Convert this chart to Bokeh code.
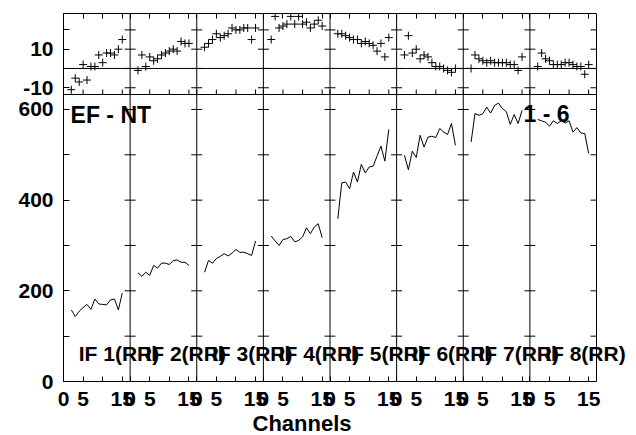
import math
from bokeh.plotting import figure
from bokeh.models import Range1d, FixedTicker, LinearAxis, Span, Label, Title
from bokeh.embed import file_html
from bokeh.resources import INLINE

# ---------------- data ----------------
channels = list(range(2, 16))
seg_width = 17
n_seg = 8
if_names = ["IF 1(RR)", "IF 2(RR)", "IF 3(RR)", "IF 4(RR)",
            "IF 5(RR)", "IF 6(RR)", "IF 7(RR)", "IF 8(RR)"]

phase_if1 = [-11, -5, -7, 2, -6, 1, 1, 7, 3, 8, 8, 7, 10, 15]
phase_if2 = [-1, 7, 1, 6, 4, 5, 7, 8, 9, 10, 9, 14, 13, 13]
phase_if3 = [11, 13, 15, 18, 16, 17, 18, 21, 20, 20, 21, 21, 15, 21]
phase_if4 = [15, 27, 21, 22, 23, 27, 23, 27, 23, 24, 21, 23, 25, 22]
phase_if5 = [18, 18, 17, 16, 15, 15, 13, 14, 13, 12, 9, 13, 6, 16]
phase_if6 = [7, 17, 8, 10, 5, 7, 6, 3, 1, 1, 0, -1, -2, 0]
phase_if7 = [0, 7, 5, 4, 3, 4, 3, 3, 3, 3, 2, 2, -1, 6]
phase_if8 = [1, 8, 5, 4, 2, 2, 2, 3, 3, 2, 1, 1, -3, 2]

amp_if1 = [158, 143, 155, 163, 170, 159, 182, 171, 170, 169, 180, 182, 158, 195]
amp_if2 = [240, 232, 241, 234, 256, 250, 261, 261, 258, 267, 268, 263, 263, 256]
amp_if3 = [241, 267, 261, 271, 276, 282, 277, 283, 291, 285, 285, 282, 278, 310]
amp_if4 = [321, 310, 300, 313, 315, 320, 308, 311, 319, 339, 326, 341, 348, 317]
amp_if5 = [359, 438, 440, 425, 462, 440, 479, 460, 473, 475, 497, 519, 486, 556]
amp_if6 = [499, 467, 508, 494, 543, 517, 539, 541, 538, 558, 550, 545, 569, 521]
amp_if7 = [528, 591, 587, 591, 605, 592, 609, 614, 602, 595, 567, 589, 569, 598]
amp_if8 = [578, 575, 572, 563, 575, 569, 575, 570, 575, 550, 560, 548, 547, 503]

phases = [phase_if1, phase_if2, phase_if3, phase_if4,
          phase_if5, phase_if6, phase_if7, phase_if8]
amps = [amp_if1, amp_if2, amp_if3, amp_if4, amp_if5, amp_if6, amp_if7, amp_if8]

chan_ticks = [0, 5, 10, 15]
chan_tick_labels = ["0", "5", "", "15"]
amp_ticks = [0, 100, 200, 300, 400, 500, 600]
amp_tick_labels = ["0", "", "200", "", "400", "", "600"]
phase_ticks = [-10, 0, 10, 20]
phase_tick_labels = ["-10", "", "10", ""]
corner_left = "EF - NT"
corner_right = "1 - 6"
x_title = "Channels"

# axis limits of the two panels
amp_max = 633
phase_lo, phase_hi = -13.5, 28.5

# ---------------- layout constants ----------------
FONT = "Liberation Sans"
FS = "21px"
FRAME_W = 533
EXTRA_W = 36          # frame room right of the boxed area, for the overflowing label
H_TOP, H_BOT = 81, 287

x_end = seg_width * n_seg
x_end_wide = x_end * (FRAME_W + EXTRA_W) / FRAME_W
amp_top = amp_max * (H_TOP + H_BOT) / H_BOT
phase_start = phase_lo - (phase_hi - phase_lo) * H_BOT / H_TOP


def phase_to_main(v):
    return amp_max + (v - phase_lo) * (amp_top - amp_max) / (phase_hi - phase_lo)


x_tick_pos = [k * seg_width + t for k in range(n_seg) for t in chan_ticks]
x_overrides = {k * seg_width + t: lab for k in range(n_seg)
               for t, lab in zip(chan_ticks, chan_tick_labels)}

left_pos = list(amp_ticks) + [phase_to_main(v) for v in phase_ticks]
left_overrides = dict(zip(amp_ticks, amp_tick_labels))
left_overrides.update({phase_to_main(v): lab
                       for v, lab in zip(phase_ticks, phase_tick_labels)})

p = figure(frame_width=FRAME_W + EXTRA_W, frame_height=H_TOP + H_BOT,
           x_range=Range1d(0, x_end_wide), y_range=Range1d(0, amp_top),
           x_axis_location=None, y_axis_location=None,
           output_backend="svg", toolbar_location=None,
           min_border_left=63, min_border_right=0,
           min_border_top=13, min_border_bottom=0,
           background_fill_color="white", border_fill_color="white")
p.extra_y_ranges = {"phase": Range1d(phase_start, phase_hi)}
p.outline_line_color = None
p.xgrid.visible = False
p.ygrid.visible = False


def make_axis(ticks, overrides=None, tin=6, standoff=10, bounds=None):
    ax = LinearAxis(ticker=FixedTicker(ticks=ticks, minor_ticks=[]),
                    axis_line_color="black", axis_line_width=1,
                    major_tick_in=tin, major_tick_out=0,
                    minor_tick_in=0, minor_tick_out=0,
                    major_tick_line_color="black", major_tick_line_width=1,
                    major_label_text_font=FONT,
                    major_label_text_font_style="bold",
                    major_label_text_color="black")
    if bounds is not None:
        ax.bounds = bounds
    if overrides is not None:
        ax.major_label_overrides = overrides
        ax.major_label_text_font_size = FS
        ax.major_label_standoff = standoff
    else:
        ax.major_label_overrides = {t: "" for t in ticks}
        ax.major_label_text_font_size = "0px"
        ax.major_label_standoff = 0
    return ax


p.add_layout(make_axis(left_pos, left_overrides, tin=6, standoff=10), "left")
p.add_layout(make_axis(x_tick_pos, x_overrides, tin=5, standoff=10,
                       bounds=(0, x_end)), "below")
p.add_layout(make_axis(x_tick_pos, None, tin=5, bounds=(0, x_end)), "above")

# segment separators and right edge of the box
for k in range(1, n_seg + 1):
    p.add_layout(Span(location=k * seg_width, dimension="height",
                      line_color="black", line_width=1))

# panel divider and phase zero line
p.segment(x0=[0], y0=[amp_max], x1=[x_end], y1=[amp_max],
          line_color="black", line_width=1)
p.segment(x0=[0], y0=[0], x1=[x_end], y1=[0], y_range_name="phase",
          line_color="black", line_width=1)

# tick crosses on the separators
bx = [k * seg_width for k in range(1, n_seg) for _ in amp_ticks]
by = [t for k in range(1, n_seg) for t in amp_ticks]
p.scatter(bx, by, marker="dash", size=11, line_color="black", line_width=1)
bxp = [k * seg_width for k in range(1, n_seg) for _ in phase_ticks]
byp = [t for k in range(1, n_seg) for t in phase_ticks]
p.scatter(bxp, byp, marker="dash", size=11, line_color="black", line_width=1,
          y_range_name="phase")

# inward ticks on the right edge
p.ray(x=[x_end] * len(amp_ticks), y=amp_ticks, length=6, length_units="screen",
      angle=math.pi, line_color="black", line_width=1)
p.ray(x=[x_end] * len(phase_ticks), y=phase_ticks, length=6,
      length_units="screen", angle=math.pi, line_color="black", line_width=1,
      y_range_name="phase")
# upward channel ticks on the panel divider
p.ray(x=x_tick_pos, y=[amp_max] * len(x_tick_pos), length=5,
      length_units="screen", angle=math.pi / 2, line_color="black",
      line_width=1)

# data
for k in range(n_seg):
    xs = [k * seg_width + c for c in channels]
    p.scatter(xs, phases[k], marker="cross", size=8, line_color="black",
              line_width=1, y_range_name="phase")
    p.line(xs, amps[k], line_color="black", line_width=1)

lab_kw = dict(text_font=FONT, text_font_style="bold",
              text_color="black", text_baseline="middle")
for k, name in enumerate(if_names):
    p.add_layout(Label(x=k * seg_width + 3.9, y=61, text=name,
                       text_font_size=FS, **lab_kw))
p.add_layout(Label(x=1.8, y=588, text=corner_left, text_font_size="23px",
                   **lab_kw))
p.add_layout(Label(x=117.4, y=590, text=corner_right, text_font_size="23px",
                   **lab_kw))
p.add_layout(Title(text=x_title, align="left", offset=189, standoff=0,
                   text_font=FONT, text_font_style="bold",
                   text_font_size="22px", text_color="black"), "below")

open("out.html", "w").write(file_html(p, INLINE))
